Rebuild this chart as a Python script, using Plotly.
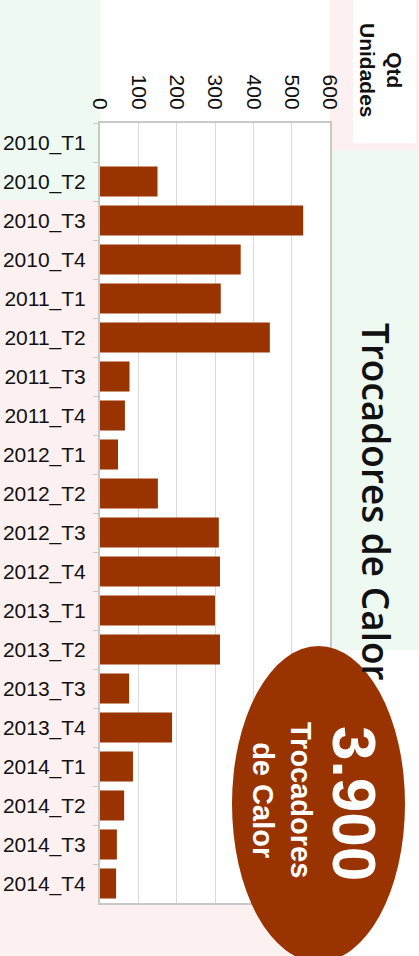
import plotly.graph_objects as go

# dados: trocadores de calor por trimestre
trimestres = [
    "2010_T1", "2010_T2", "2010_T3", "2010_T4",
    "2011_T1", "2011_T2", "2011_T3", "2011_T4",
    "2012_T1", "2012_T2", "2012_T3", "2012_T4",
    "2013_T1", "2013_T2", "2013_T3", "2013_T4",
    "2014_T1", "2014_T2", "2014_T3", "2014_T4",
]
unidades = [0, 150, 530, 367, 315, 443, 77, 65,
            47, 151, 310, 313, 300, 313, 76, 188,
            86, 63, 44, 42]
eixo_ticks = [0, 100, 200, 300, 400, 500, 600]
total_txt = "3.900"

W, H = 419, 956
L, R, T, B = 100, 89, 123, 53
PW, PH = W - L - R, H - T - B


def px(x):
    return (x - L) / PW


def py(y):
    return (H - B - y) / PH


def rect(x0, y0, x1, y1, cor):
    return dict(type="rect", xref="paper", yref="paper", layer="below",
                x0=px(x0), x1=px(x1), y0=py(y1), y1=py(y0),
                fillcolor=cor, line=dict(width=0))


fig = go.Figure()

fig.add_trace(go.Bar(
    x=unidades, y=trimestres, orientation="h",
    marker=dict(color="#993300", line=dict(width=0)),
))

shapes = [
    rect(0, 0, 100, 200, "#eefaf1"),
    rect(100, 0, 330, 123, "#ffffff"),
    rect(330, 150, 419, 650, "#eefaf1"),
    rect(330, 650, 419, 956, "#ffffff"),
    rect(353, 0, 416, 143, "#ffffff"),
    dict(type="circle", xref="paper", yref="paper",
         x0=px(232), x1=px(405), y0=py(962), y1=py(646),
         fillcolor="#993300", line=dict(width=0)),
]

annotations = [
    dict(text="Trocadores de Calor", textangle=90, showarrow=False,
         xref="paper", yref="paper", x=px(377), y=py(502),
         xanchor="center", yanchor="middle",
         font=dict(family="Open Sans", size=37, weight=600, color="#111111")),
    dict(text="<b>Qtd<br>Unidades</b>", textangle=90, showarrow=False,
         xref="paper", yref="paper", x=px(381), y=py(70),
         xanchor="center", yanchor="middle",
         font=dict(family="Liberation Sans", size=21, color="#111111")),
    dict(text="<b>" + total_txt + "</b>", textangle=90, showarrow=False,
         xref="paper", yref="paper", x=px(355), y=py(803),
         xanchor="center", yanchor="middle",
         font=dict(family="Liberation Sans", size=62, color="white")),
    dict(text="<b>Trocadores<br>de Calor</b>", textangle=90, showarrow=False,
         xref="paper", yref="paper", x=px(282), y=py(800),
         xanchor="center", yanchor="middle",
         font=dict(family="Liberation Sans", size=29, color="white")),
]

fig.update_layout(
    width=W, height=H,
    margin=dict(l=L, r=R, t=T, b=B),
    paper_bgcolor="#fcf0f0",
    plot_bgcolor="white",
    showlegend=False,
    bargap=0.23,
    shapes=shapes,
    annotations=annotations,
    font=dict(family="Liberation Sans", color="#111111"),
    xaxis=dict(
        side="top", range=[0, 600], tickvals=eixo_ticks, tickangle=90,
        tickfont=dict(size=21), showgrid=True, gridcolor="#d9d9d9", gridwidth=1,
        showline=True, linecolor="#c8c8c8", linewidth=2, mirror=True,
        zeroline=False, ticks="", ticklabelstandoff=4, automargin=False,
    ),
    yaxis=dict(
        categoryorder="array", categoryarray=trimestres, autorange="reversed",
        tickfont=dict(size=21), showgrid=False,
        showline=True, linecolor="#c8c8c8", linewidth=2, mirror=True,
        ticks="outside", tickson="boundaries", ticklen=5, tickcolor="#c8c8c8",
        ticklabelstandoff=8, automargin=False,
    ),
)

fig.write_html("out.html", config={"displayModeBar": False},
               post_script="document.body.style.margin='0';")
